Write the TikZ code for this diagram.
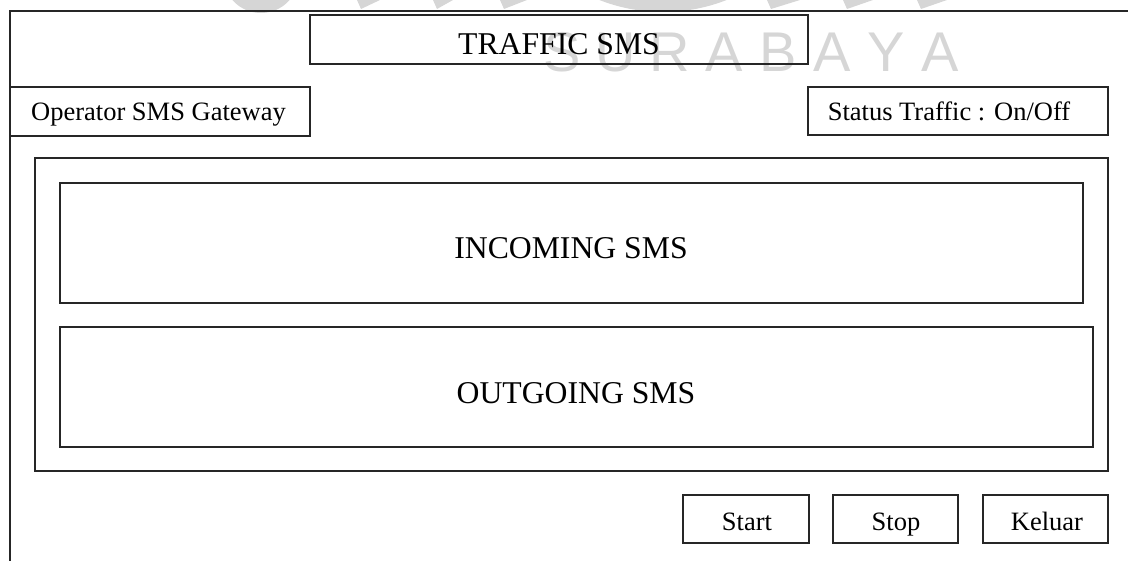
\documentclass[tikz,border=0pt]{standalone}
\usepackage{fontspec}
\setmainfont{Liberation Serif}
\newfontfamily\wmfont{Liberation Sans}
\begin{document}
\begin{tikzpicture}[x=1pt,y=-1pt,
  box/.style={draw=black!85, line width=1.3pt, inner sep=0pt, outer sep=0pt},
  frame/.style={draw=black!85, line width=1.3pt},
  smalltxt/.style={font=\fontsize{26.5}{30}\selectfont, inner sep=0pt, anchor=base},
  bigtxt/.style={font=\fontsize{31.7}{36}\selectfont, inner sep=0pt, anchor=base},
  wm/.style={font=\wmfont\fontsize{56}{60}\selectfont, text=black!16, inner sep=0pt, anchor=base},
  logo/.style={fill=black!16, draw=none}]
\useasboundingbox (0,0) rectangle (1128,561);
% watermark (behind everything)
\begin{scope}
\clip (0,0) rectangle (1128,561);
\fill[logo] (261,-25) circle (38);
\fill[logo] (663,-162) circle (174);
\foreach \a/\b in {357/380,433/453,500/527,767/800,843/873,917/947}{
  \fill[logo] (\a,0) -- (\b,0) -- (\a+4,9) -- cycle;
}
\foreach \l [count=\i from 0] in {S,U,R,A,B,A,Y,A}{
  \node[wm] (wm\i) at (562+54*\i,72) {\l};
}
\end{scope}
% outer frame (open on right and bottom)
\coordinate (ftr) at (1128,11);
\coordinate (ftl) at (10,11);
\coordinate (fbl) at (10,561);
\draw[frame] (ftr) -- (ftl) -- (fbl);
% boxes
\node[box, minimum width=498, minimum height=49] (title) at (559,39.5) {};
\node[box, minimum width=300, minimum height=49] (op) at (160,111.5) {};
\node[box, minimum width=300, minimum height=48] (status) at (958,111) {};
\node[box, minimum width=1073, minimum height=313] (panel) at (571.5,314.5) {};
\node[box, minimum width=1023, minimum height=120] (inc) at (571.5,243) {};
\node[box, minimum width=1033, minimum height=120] (out) at (576.5,387) {};
\node[box, minimum width=126, minimum height=48] (start) at (746,519) {};
\node[box, minimum width=125, minimum height=48] (stop) at (895.5,519) {};
\node[box, minimum width=125, minimum height=48] (keluar) at (1045.5,519) {};
% texts
\node[bigtxt] (titlet) at (559,55) {TRAFFIC SMS};
\node[smalltxt] (opt) at (158.5,121) {Operator SMS Gateway};
\node[smalltxt] (statust) at (949,121) {Status Traffic : On/Off};
\node[bigtxt] (inct) at (571,259) {INCOMING SMS};
\node[bigtxt] (outt) at (576,403) {OUTGOING SMS};
\node[smalltxt] (startt) at (747,530) {Start};
\node[smalltxt] (stopt) at (896,530) {Stop};
\node[smalltxt] (keluart) at (1047,530) {Keluar};
\end{tikzpicture}
\end{document}
